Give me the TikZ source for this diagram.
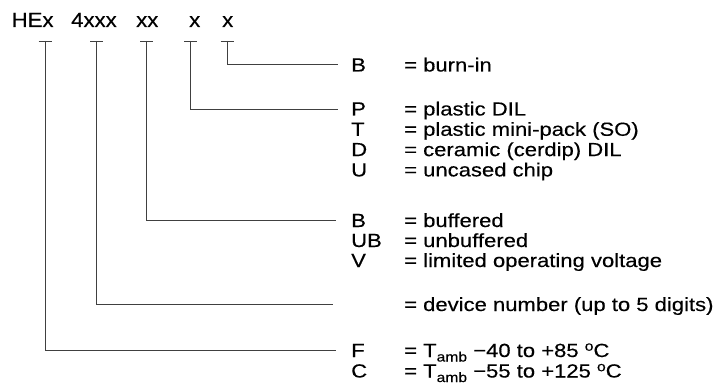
\documentclass[tikz,border=0pt]{standalone}
\usepackage{fontspec}
\setmainfont{Liberation Sans}
\newfontfamily\labfont[FakeStretch=1.16,FakeBold=0.3]{Liberation Sans}
\newfontfamily\ttlfont[FakeStretch=1.08,FakeBold=0.3]{Liberation Sans}
\newcommand{\amb}{\raisebox{-4.5pt}{\fontsize{13.5}{14}\selectfont amb}}
\newcommand{\dego}{\raisebox{6.3pt}{\fontsize{13.5}{14}\selectfont o}}
\begin{document}
\begin{tikzpicture}[x=1pt,y=-1pt,
  conn/.style={draw=black!75,line width=0.8pt},
  ttl/.style={anchor=base west,inner sep=0pt,font=\ttlfont\fontsize{20.5}{24}\selectfont},
  lab/.style={anchor=base west,inner sep=0pt,font=\labfont\fontsize{19}{22}\selectfont}]
\useasboundingbox (0,0) rectangle (715,385);
% title
\node[ttl] (hex) at (11.5,27) {HEx};
\node[ttl] (dev) at (71,27) {4xxx};
\node[ttl] (opt) at (136,27) {xx};
\node[ttl] (pkg) at (189,27) {x};
\node[ttl] (bur) at (222,27) {x};
% T tops
\coordinate (t1) at (45,41);
\coordinate (t2) at (96.7,41);
\coordinate (t3) at (146.7,41);
\coordinate (t4) at (190.7,41);
\coordinate (t5) at (227,41);
\foreach \t in {t1,t2,t3,t4,t5}{
  \draw[conn] ([xshift=-6.5pt]\t) -- ([xshift=6.5pt]\t);
}
% line ends
\coordinate (e5) at (338,64.3);
\coordinate (e4) at (338,109);
\coordinate (e3) at (336,220);
\coordinate (e2) at (333,304);
\coordinate (e1) at (336,350);
\draw[conn] (t5) |- (e5);
\draw[conn] (t4) |- (e4);
\draw[conn] (t3) |- (e3);
\draw[conn] (t2) |- (e2);
\draw[conn] (t1) |- (e1);
% labels
\node[lab] (kB) at (351,71.5) {B};
\node[lab] (vB) at (404,71.5) {= burn-in};
\node[lab] (kP) at (351,115.5) {P};
\node[lab] (vP) at (404,115.5) {= plastic DIL};
\node[lab] (kT) at (351,135.8) {T};
\node[lab] (vT) at (404,135.8) {= plastic mini-pack (SO)};
\node[lab] (kD) at (351,156.1) {D};
\node[lab] (vD) at (404,156.1) {= ceramic (cerdip) DIL};
\node[lab] (kU) at (351,176.4) {U};
\node[lab] (vU) at (404,176.4) {= uncased chip};
\node[lab] (kBb) at (351,227) {B};
\node[lab] (vBb) at (404,227) {= buffered};
\node[lab] (kUB) at (351,247) {UB};
\node[lab] (vUB) at (404,247) {= unbuffered};
\node[lab] (kV) at (351,267) {V};
\node[lab] (vV) at (404,267) {= limited operating voltage};
\node[lab] (vN) at (404,311) {= device number (up to 5 digits)};
\node[lab] (kF) at (351,357) {F};
\node[lab] (vF) at (404,357) {= T\amb{} −40 to +85 \dego C};
\node[lab] (kC) at (351,377.5) {C};
\node[lab] (vC) at (404,377.5) {= T\amb{} −55 to +125 \dego C};
\end{tikzpicture}
\end{document}
